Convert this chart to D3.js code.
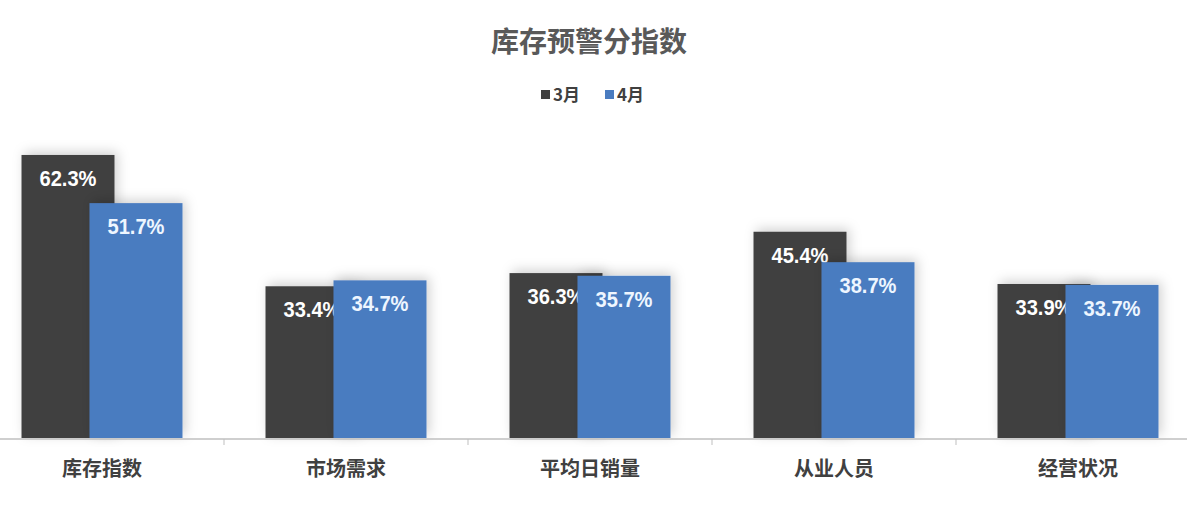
<!DOCTYPE html>
<html>
<head>
<meta charset="utf-8">
<script src="https://cdn.jsdelivr.net/npm/d3@7"></script>
<style>
html,body{margin:0;padding:0;background:#fff;}
svg{display:block;}
</style>
</head>
<body>
<svg id="chart" width="1187" height="505"></svg>
<script>
const categories = ["库存指数","市场需求","平均日销量","从业人员","经营状况"];
const seriesNames = ["3月","4月"];
const march = [62.3, 33.4, 36.3, 45.4, 33.9];
const april = [51.7, 34.7, 35.7, 38.7, 33.7];
const colors = ["#404040", "#4a7cc0"];
const labelColors = ["#ffffff", "#eef6ff"];

const W = 1187, H = 505;
const svg = d3.select("#chart");
const defs = svg.append("defs");
const f = defs.append("filter").attr("id","sh").attr("x","-30%").attr("y","-30%").attr("width","160%").attr("height","160%");
f.append("feDropShadow").attr("dx",3).attr("dy",-3).attr("stdDeviation",6).attr("flood-color","#000").attr("flood-opacity",0.18);

const x = d3.scaleBand().domain(categories).range([-20, 1200]).padding(0);
const y = d3.scaleLinear().domain([0, 100]).range([438, 438 - 454.3]);
const barW = 93, off = 34;

// title
svg.append("text").attr("x", 589).attr("y", 52).attr("text-anchor","middle")
  .attr("font-family","'Noto Sans CJK SC', sans-serif").attr("font-weight","bold")
  .attr("font-size", 28).attr("fill","#595959").text("库存预警分指数");

// legend
const leg = svg.append("g").attr("font-family","'Noto Sans CJK SC', sans-serif");
const legX = [541, 605];
seriesNames.forEach((s,i)=>{
  leg.append("rect").attr("x", legX[i]).attr("y", 90).attr("width", 9).attr("height", 9).attr("fill", colors[i]);
  leg.append("text").attr("x", legX[i]+12).attr("y", 101).attr("font-size", 17).attr("font-weight","bold")
    .attr("fill","#404040").text(s);
});

// bars
const data = [march, april];
data.forEach((vals, si)=>{
  const g = svg.append("g");
  g.selectAll("rect").data(vals).join("rect")
    .attr("x", (d,i)=> x(categories[i]) + x.bandwidth()/2 + (si===0?-off:off) - barW/2)
    .attr("y", d=> y(d))
    .attr("width", barW)
    .attr("height", d=> y(0) - y(d))
    .attr("fill", colors[si])
    .attr("filter","url(#sh)");
  g.selectAll("text").data(vals).join("text")
    .attr("x", (d,i)=> x(categories[i]) + x.bandwidth()/2 + (si===0?-off:off))
    .attr("y", d=> y(d) + 31)
    .attr("text-anchor","middle")
    .attr("font-family","'Liberation Sans', Arial, sans-serif")
    .attr("font-weight","bold")
    .attr("font-size", 22)
    .attr("textLength", 57)
    .attr("lengthAdjust", "spacingAndGlyphs")
    .attr("fill", labelColors[si])
    .text(d=> d.toFixed(1) + "%");
});

// axis
svg.append("line").attr("x1",0).attr("x2",W).attr("y1",439).attr("y2",439)
  .attr("stroke","#bfbfbf").attr("stroke-width",1.5);
categories.slice(1).forEach(c=>{
  svg.append("line").attr("x1", x(c)).attr("x2", x(c)).attr("y1",439).attr("y2",445)
    .attr("stroke","#bfbfbf").attr("stroke-width",1);
});
svg.append("g").selectAll("text").data(categories).join("text")
  .attr("x", d=> x(d) + x.bandwidth()/2)
  .attr("y", 476)
  .attr("text-anchor","middle")
  .attr("font-family","'Noto Sans CJK SC', sans-serif")
  .attr("font-weight","bold")
  .attr("font-size", 20)
  .attr("fill","#404040")
  .text(d=>d);
</script>
</body>
</html>
